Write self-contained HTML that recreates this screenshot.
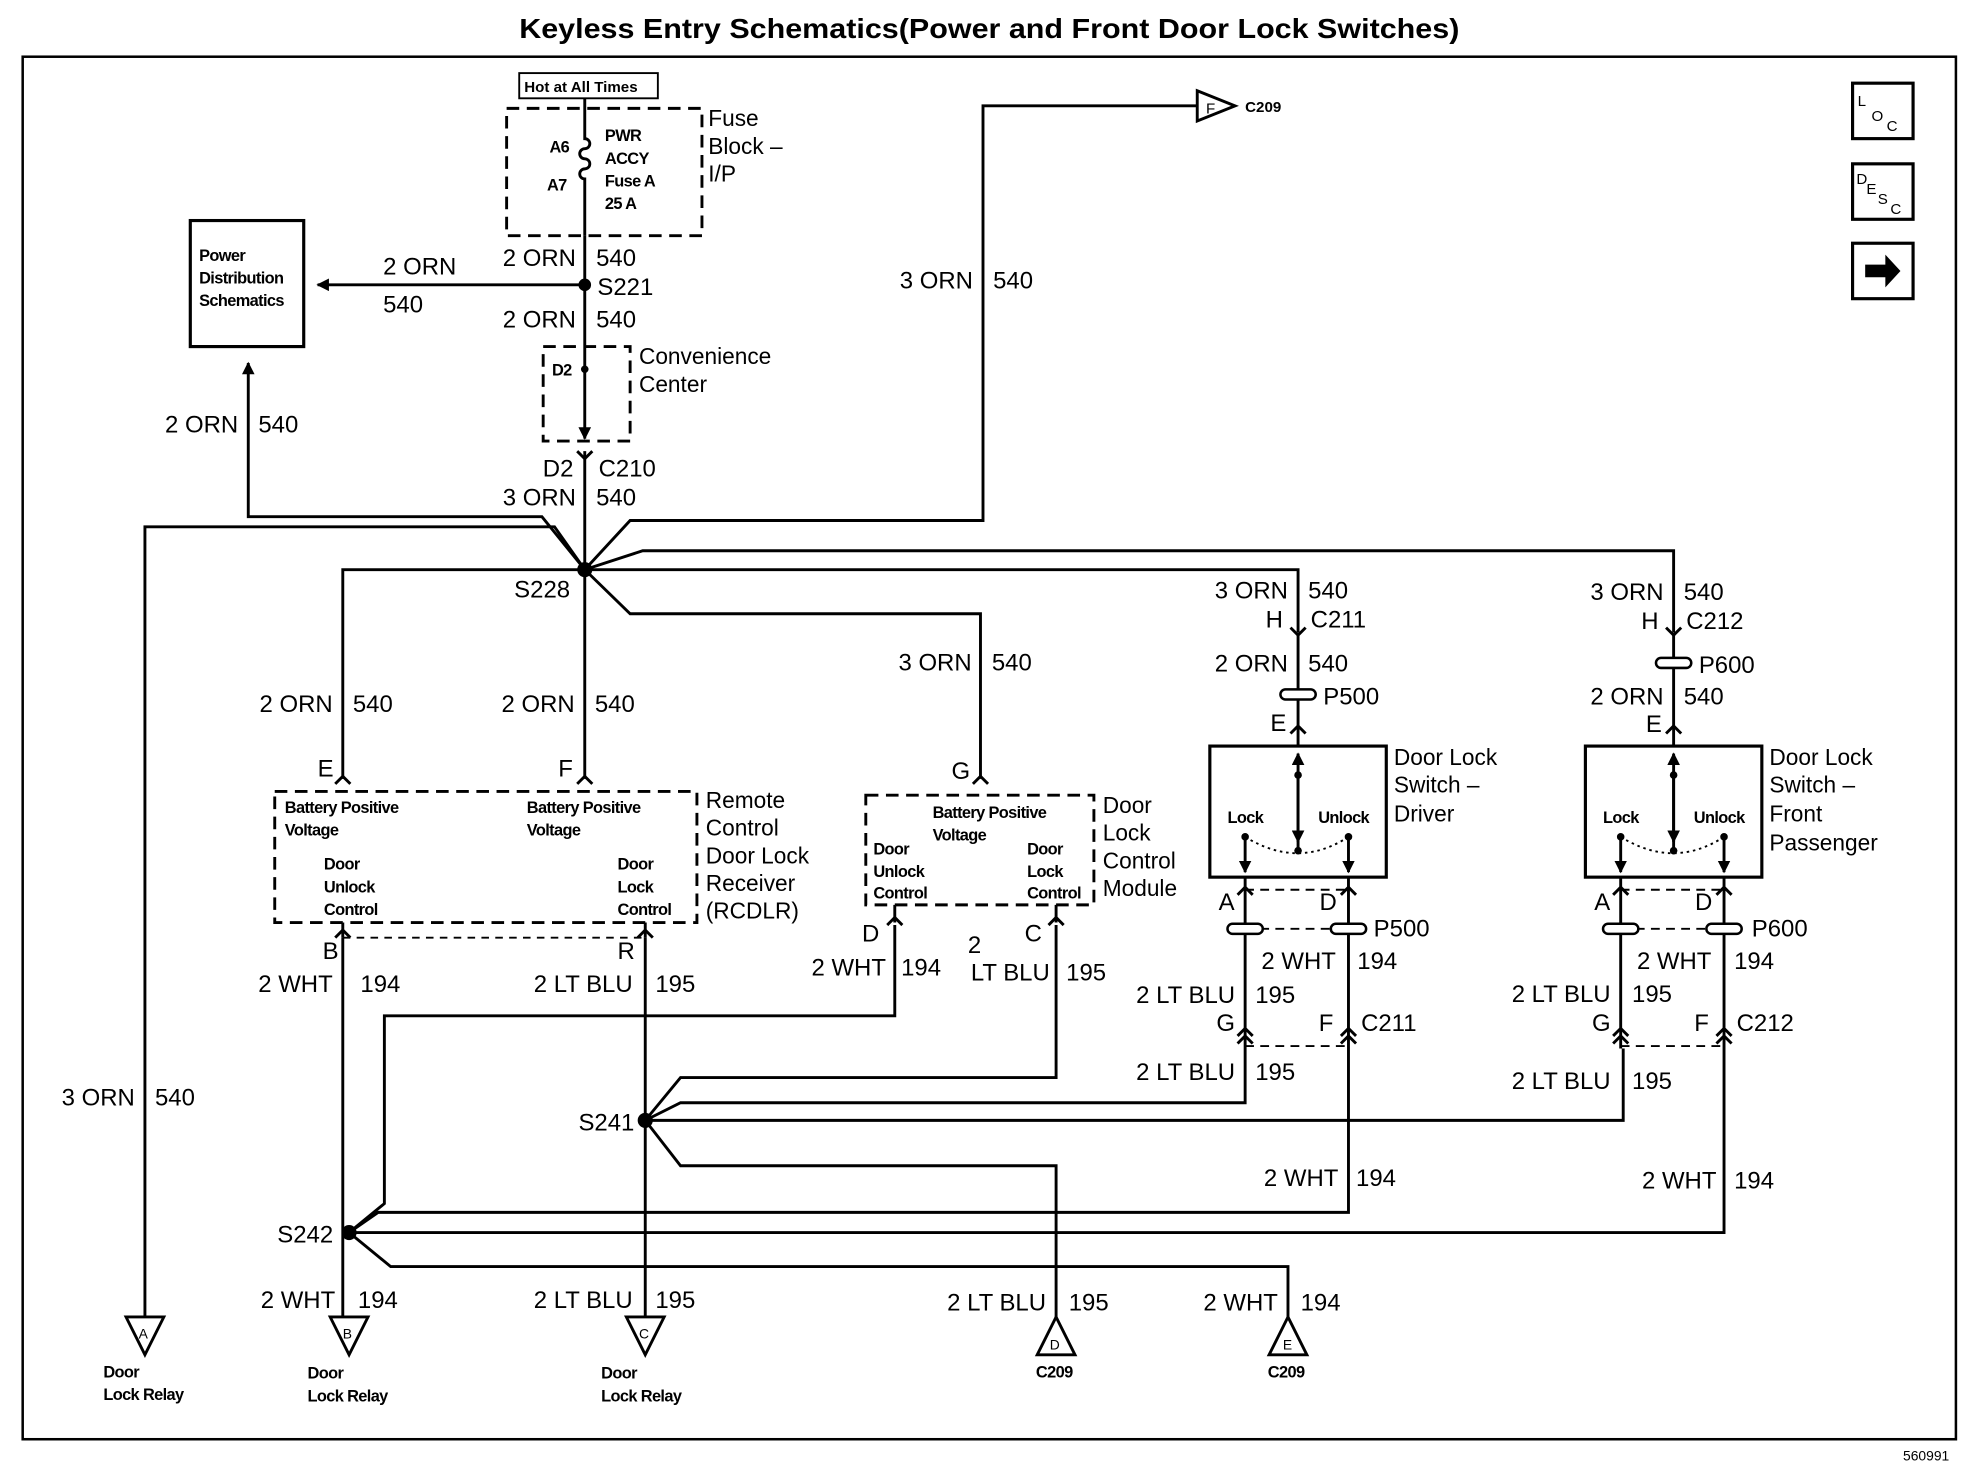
<!DOCTYPE html>
<html><head><meta charset="utf-8"><style>
html,body{margin:0;padding:0;background:#fff}
svg{display:block}
text{font-family:"Liberation Sans",sans-serif;fill:#000}
.w{font-size:19px}
.s{font-size:13px;font-weight:bold;letter-spacing:-0.5px}
.m{font-size:18px}
</style></head><body>
<svg width="1966" height="1472" viewBox="0 0 1560 1168" preserveAspectRatio="none" xmlns="http://www.w3.org/2000/svg">
<defs>
<marker id="ar" markerWidth="10" markerHeight="10" refX="9" refY="5" orient="auto" markerUnits="userSpaceOnUse"><path d="M0,0 L10,5 L0,10 Z" fill="#000"/></marker>
</defs>
<rect width="1560" height="1168" fill="#fff"/>
<text x="785" y="30" text-anchor="middle" font-size="22" font-weight="bold" textLength="746" lengthAdjust="spacingAndGlyphs">Keyless Entry Schematics(Power and Front Door Lock Switches)</text>
<rect x="18" y="45" width="1534" height="1097" fill="none" stroke="#000" stroke-width="2"/>
<text x="1510" y="1159" font-size="11">560991</text>
<g fill="none" stroke="#000" stroke-width="2.5">
<rect x="1470" y="66" width="48" height="44"/><rect x="1470" y="130" width="48" height="44"/><rect x="1470" y="193" width="48" height="44"/>
</g>
<text x="1474" y="84" font-size="12">L</text><text x="1485" y="96" font-size="12">O</text><text x="1497" y="104" font-size="12">C</text>
<text x="1473" y="146" font-size="12">D</text><text x="1481" y="154" font-size="12">E</text><text x="1490" y="162" font-size="12">S</text><text x="1500" y="170" font-size="12">C</text>
<path d="M1480,210 h16 v-8 l12,13 l-12,13 v-8 h-16 z" fill="#000"/>

<g fill="none" stroke="#000" stroke-width="2.3">
<rect x="412" y="58" width="110" height="20" stroke-width="1.5"/>
<rect x="402" y="86" width="155" height="101" stroke-dasharray="10,6"/>
<path d="M464,78 V110 a4,4 0 0 1 0,8 a4,4 0 0 0 0,8 a4,4 0 0 1 0,8 a4,4 0 0 0 0,8 V187"/>
<path d="M464,187 V275"/>
<path d="M464,226 H252" marker-end="url(#ar)"/>
<rect x="151" y="175" width="90" height="100" stroke-width="2.5"/>
<rect x="431" y="275" width="69" height="75" stroke-dasharray="10,6"/>
<path d="M464,275 V348" marker-end="url(#ar)"/>
<path d="M458,358 l6,6 l6,-6"/>
<path d="M464,358 V452"/>
<path d="M464,452 L500,413 H780 V84 H950"/>
<path d="M950,72 L980,84 L950,96 Z"/>
<path d="M464,452 L430,410 H197 V288" marker-end="url(#ar)"/>
<path d="M464,452 L440,418 H115 V1045"/>
<path d="M464,452 H272 V618"/>
<path d="M464,452 V618"/>
<path d="M464,452 L500,487 H778 V618"/>
<path d="M464,452 L510,437 H1328 V502"/>
<path d="M464,452 H1030 V502"/>
<path d="M266,622 l6,-6 l6,6 M458,622 l6,-6 l6,6 M772,622 l6,-6 l6,6"/>
<path d="M1024,498 l6,6 l6,-6 M1322,498 l6,6 l6,-6"/>
<rect x="218" y="628" width="335" height="104" stroke-dasharray="10,6"/>
<rect x="687" y="631" width="181" height="87" stroke-dasharray="10,6"/>
<path d="M272,732 V744 M512,732 V744 M710,718 V732 M838,718 V732"/>
<path d="M266,744 l6,-6 l6,6 M506,744 l6,-6 l6,6 M704,734 l6,-6 l6,6 M832,734 l6,-6 l6,6"/>
<path d="M272,744 H512" stroke-dasharray="6,5" stroke-width="1.5"/>
<path d="M272,744 V1045"/>
<path d="M512,744 V1045"/>
<path d="M710,734 V806 H305 V955 L277,978"/>
<path d="M838,734 V855 H540 L512,889"/>
<path d="M512,889 L540,875 H988 V832"/>
<path d="M512,889 H1288 V832"/>
<path d="M512,889 L540,925 H838 V1045"/>
<path d="M277,978 L300,962 H1070 V832"/>
<path d="M277,978 H1368 V832"/>
<path d="M277,978 L310,1005 H1022 V1045"/>
<path d="M1030,504 V592 M1328,504 V592"/>
<path d="M1024,582 l6,-6 l6,6 M1322,582 l6,-6 l6,6"/>
<rect x="960" y="592" width="140" height="104" stroke-width="2.5"/>
<rect x="1258" y="592" width="140" height="104" stroke-width="2.5"/>
<path d="M1030,675 V598" marker-end="url(#ar)"/><path d="M1030,612 V668" marker-end="url(#ar)"/>
<path d="M1328,675 V598" marker-end="url(#ar)"/><path d="M1328,612 V668" marker-end="url(#ar)"/>
<path d="M988,664 V692" marker-end="url(#ar)"/><path d="M1070,664 V692" marker-end="url(#ar)"/>
<path d="M1286,664 V692" marker-end="url(#ar)"/><path d="M1368,664 V692" marker-end="url(#ar)"/>
<path d="M988,664 Q1030,690 1070,664 M1286,664 Q1328,690 1368,664" stroke-dasharray="2,3" stroke-width="1.5"/>
<path d="M988,696 V832 M1070,696 V832 M1286,696 V832 M1368,696 V832"/>
<path d="M982,710 l6,-6 l6,6 M1064,710 l6,-6 l6,6 M1280,710 l6,-6 l6,6 M1362,710 l6,-6 l6,6"/>
<path d="M988,706 H1070 M1286,706 H1368 M988,737 H1070 M1286,737 H1368 M988,830 H1070 M1286,830 H1368" stroke-dasharray="7,5" stroke-width="1.5"/>
<path d="M982,822 l6,-6 l6,6 M982,828 l6,-6 l6,6 M1064,822 l6,-6 l6,6 M1064,828 l6,-6 l6,6 M1280,822 l6,-6 l6,6 M1280,828 l6,-6 l6,6 M1362,822 l6,-6 l6,6 M1362,828 l6,-6 l6,6"/>
<path d="M100,1045 H130 L115,1075 Z M262,1045 H292 L277,1075 Z M497,1045 H527 L512,1075 Z M838,1045 L823,1075 H853 Z M1022,1045 L1007,1075 H1037 Z"/>
</g>
<g fill="#fff" stroke="#000" stroke-width="2">
<rect x="1016" y="547" width="28" height="8" rx="4"/><rect x="1314" y="522" width="28" height="8" rx="4"/>
<rect x="974" y="733" width="28" height="8" rx="4"/><rect x="1056" y="733" width="28" height="8" rx="4"/>
<rect x="1272" y="733" width="28" height="8" rx="4"/><rect x="1354" y="733" width="28" height="8" rx="4"/>
</g>
<g fill="#000">
<circle cx="464" cy="226" r="5"/><circle cx="464" cy="293" r="3"/><circle cx="464" cy="452" r="6"/>
<circle cx="512" cy="889" r="6"/><circle cx="277" cy="978" r="6"/>
<circle cx="1030" cy="615" r="3"/><circle cx="1030" cy="675" r="3"/><circle cx="988" cy="664" r="3"/><circle cx="1070" cy="664" r="3"/>
<circle cx="1328" cy="615" r="3"/><circle cx="1328" cy="675" r="3"/><circle cx="1286" cy="664" r="3"/><circle cx="1368" cy="664" r="3"/>
</g>
<text x="416" y="73" font-size="12" font-weight="bold">Hot at All Times</text>
<text x="436" y="121" class="s">A6</text><text x="434" y="151" class="s">A7</text>
<text x="480" y="112" class="s">PWR</text><text x="480" y="130" class="s">ACCY</text><text x="480" y="148" class="s">Fuse A</text><text x="480" y="166" class="s">25 A</text>
<text x="562" y="100" class="m">Fuse</text><text x="562" y="122" class="m">Block –</text><text x="562" y="144" class="m">I/P</text>
<text x="158" y="207" class="s">Power</text><text x="158" y="225" class="s">Distribution</text><text x="158" y="243" class="s">Schematics</text>
<text x="304" y="218" class="w">2 ORN</text><text x="304" y="248" class="w">540</text>
<text x="457" y="211" class="w" text-anchor="end">2 ORN</text><text x="473" y="211" class="w">540</text>
<text x="474" y="234" class="w">S221</text>
<text x="457" y="260" class="w" text-anchor="end">2 ORN</text><text x="473" y="260" class="w">540</text>
<text x="438" y="298" class="s">D2</text>
<text x="507" y="289" class="m">Convenience</text><text x="507" y="311" class="m">Center</text>
<text x="189" y="343" class="w" text-anchor="end">2 ORN</text><text x="205" y="343" class="w">540</text>
<text x="455" y="378" class="w" text-anchor="end">D2</text><text x="475" y="378" class="w">C210</text>
<text x="457" y="401" class="w" text-anchor="end">3 ORN</text><text x="473" y="401" class="w">540</text>
<text x="772" y="229" class="w" text-anchor="end">3 ORN</text><text x="788" y="229" class="w">540</text>
<text x="988" y="89" font-size="12" font-weight="bold">C209</text><text x="957" y="90" font-size="12">F</text>
<text x="408" y="474" class="w">S228</text>
<text x="264" y="565" class="w" text-anchor="end">2 ORN</text><text x="280" y="565" class="w">540</text>
<text x="456" y="565" class="w" text-anchor="end">2 ORN</text><text x="472" y="565" class="w">540</text>
<text x="771" y="532" class="w" text-anchor="end">3 ORN</text><text x="787" y="532" class="w">540</text>
<text x="252" y="616" class="w">E</text><text x="443" y="616" class="w">F</text><text x="755" y="618" class="w">G</text>
<text x="226" y="645" class="s">Battery Positive</text><text x="226" y="663" class="s">Voltage</text>
<text x="418" y="645" class="s">Battery Positive</text><text x="418" y="663" class="s">Voltage</text>
<text x="257" y="690" class="s">Door</text><text x="257" y="708" class="s">Unlock</text><text x="257" y="726" class="s">Control</text>
<text x="490" y="690" class="s">Door</text><text x="490" y="708" class="s">Lock</text><text x="490" y="726" class="s">Control</text>
<text x="560" y="641" class="m">Remote</text><text x="560" y="663" class="m">Control</text><text x="560" y="685" class="m">Door Lock</text><text x="560" y="707" class="m">Receiver</text><text x="560" y="729" class="m">(RCDLR)</text>
<text x="740" y="649" class="s">Battery Positive</text><text x="740" y="667" class="s">Voltage</text>
<text x="693" y="678" class="s">Door</text><text x="693" y="696" class="s">Unlock</text><text x="693" y="713" class="s">Control</text>
<text x="815" y="678" class="s">Door</text><text x="815" y="696" class="s">Lock</text><text x="815" y="713" class="s">Control</text>
<text x="875" y="645" class="m">Door</text><text x="875" y="667" class="m">Lock</text><text x="875" y="689" class="m">Control</text><text x="875" y="711" class="m">Module</text>
<text x="256" y="761" class="w">B</text><text x="490" y="761" class="w">R</text>
<text x="684" y="747" class="w">D</text><text x="813" y="747" class="w">C</text>
<text x="264" y="787" class="w" text-anchor="end">2 WHT</text><text x="286" y="787" class="w">194</text>
<text x="502" y="787" class="w" text-anchor="end">2 LT BLU</text><text x="520" y="787" class="w">195</text>
<text x="703" y="774" class="w" text-anchor="end">2 WHT</text><text x="715" y="774" class="w">194</text>
<text x="768" y="756" class="w">2</text><text x="833" y="778" class="w" text-anchor="end">LT BLU</text><text x="846" y="778" class="w">195</text>
<text x="1022" y="475" class="w" text-anchor="end">3 ORN</text><text x="1038" y="475" class="w">540</text>
<text x="1018" y="498" class="w" text-anchor="end">H</text><text x="1040" y="498" class="w">C211</text>
<text x="1022" y="533" class="w" text-anchor="end">2 ORN</text><text x="1038" y="533" class="w">540</text>
<text x="1050" y="559" class="w">P500</text><text x="1008" y="580" class="w">E</text>
<text x="1320" y="476" class="w" text-anchor="end">3 ORN</text><text x="1336" y="476" class="w">540</text>
<text x="1316" y="499" class="w" text-anchor="end">H</text><text x="1338" y="499" class="w">C212</text>
<text x="1348" y="534" class="w">P600</text>
<text x="1320" y="559" class="w" text-anchor="end">2 ORN</text><text x="1336" y="559" class="w">540</text>
<text x="1306" y="581" class="w">E</text>
<text x="1106" y="607" class="m">Door Lock</text><text x="1106" y="629" class="m">Switch –</text><text x="1106" y="652" class="m">Driver</text>
<text x="1404" y="607" class="m">Door Lock</text><text x="1404" y="629" class="m">Switch –</text><text x="1404" y="652" class="m">Front</text><text x="1404" y="675" class="m">Passenger</text>
<text x="974" y="653" class="s">Lock</text><text x="1046" y="653" class="s">Unlock</text>
<text x="1272" y="653" class="s">Lock</text><text x="1344" y="653" class="s">Unlock</text>
<text x="967" y="722" class="w">A</text><text x="1047" y="722" class="w">D</text><text x="1090" y="743" class="w">P500</text>
<text x="1265" y="722" class="w">A</text><text x="1345" y="722" class="w">D</text><text x="1390" y="743" class="w">P600</text>
<text x="1060" y="769" class="w" text-anchor="end">2 WHT</text><text x="1077" y="769" class="w">194</text>
<text x="980" y="796" class="w" text-anchor="end">2 LT BLU</text><text x="996" y="796" class="w">195</text>
<text x="980" y="818" class="w" text-anchor="end">G</text><text x="1058" y="818" class="w" text-anchor="end">F</text><text x="1080" y="818" class="w">C211</text>
<text x="1358" y="769" class="w" text-anchor="end">2 WHT</text><text x="1376" y="769" class="w">194</text>
<text x="1278" y="795" class="w" text-anchor="end">2 LT BLU</text><text x="1295" y="795" class="w">195</text>
<text x="1278" y="818" class="w" text-anchor="end">G</text><text x="1356" y="818" class="w" text-anchor="end">F</text><text x="1378" y="818" class="w">C212</text>
<text x="980" y="857" class="w" text-anchor="end">2 LT BLU</text><text x="996" y="857" class="w">195</text>
<text x="1278" y="864" class="w" text-anchor="end">2 LT BLU</text><text x="1295" y="864" class="w">195</text>
<text x="1062" y="941" class="w" text-anchor="end">2 WHT</text><text x="1076" y="941" class="w">194</text>
<text x="1362" y="943" class="w" text-anchor="end">2 WHT</text><text x="1376" y="943" class="w">194</text>
<text x="459" y="897" class="w">S241</text><text x="220" y="986" class="w">S242</text>
<text x="107" y="877" class="w" text-anchor="end">3 ORN</text><text x="123" y="877" class="w">540</text>
<text x="266" y="1038" class="w" text-anchor="end">2 WHT</text><text x="284" y="1038" class="w">194</text>
<text x="502" y="1038" class="w" text-anchor="end">2 LT BLU</text><text x="520" y="1038" class="w">195</text>
<text x="830" y="1040" class="w" text-anchor="end">2 LT BLU</text><text x="848" y="1040" class="w">195</text>
<text x="1014" y="1040" class="w" text-anchor="end">2 WHT</text><text x="1032" y="1040" class="w">194</text>
<text x="110" y="1062" font-size="11">A</text><text x="272" y="1062" font-size="11">B</text><text x="507" y="1062" font-size="11">C</text><text x="833" y="1071" font-size="11">D</text><text x="1018" y="1071" font-size="11">E</text>
<text x="82" y="1093" class="s">Door</text><text x="82" y="1111" class="s">Lock Relay</text>
<text x="244" y="1094" class="s">Door</text><text x="244" y="1112" class="s">Lock Relay</text>
<text x="477" y="1094" class="s">Door</text><text x="477" y="1112" class="s">Lock Relay</text>
<text x="822" y="1093" class="s">C209</text><text x="1006" y="1093" class="s">C209</text>
</svg>
</body></html>
